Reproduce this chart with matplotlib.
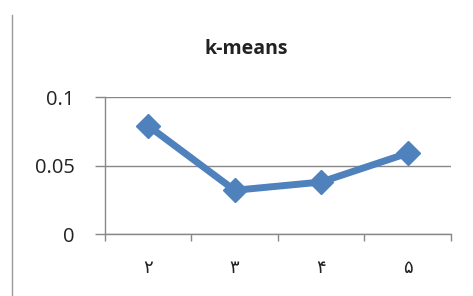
import matplotlib
matplotlib.use("Agg")
import matplotlib.pyplot as plt
from matplotlib.lines import Line2D

# data
categories = ["۲", "۳", "۴", "۵"]
values = [0.079, 0.032, 0.038, 0.059]
y_ticks = [0, 0.05, 0.1]
y_labels = ["0", "0.05", "0.1"]

fig = plt.figure(figsize=(4.73, 2.96), dpi=100)
fig.patch.set_facecolor("white")
ax = fig.add_axes([0.222, 0.209, 0.731, 0.463])

x = list(range(len(categories)))
ax.plot(x, values, color="#4F81BD", lw=5, marker="D", ms=12,
        mfc="#4F81BD", mec="#4F81BD", solid_joinstyle="miter", zorder=3)

ax.set_xlim(-0.5, len(categories) - 0.5)
ax.set_ylim(0, 0.1)
ax.set_yticks(y_ticks)
ax.set_yticklabels(y_labels, family=["Open Sans", "DejaVu Sans"], fontsize=14.5, color="#222222")
ax.set_xticks(x)
ax.set_xticklabels(categories, family=["DejaVu Sans"], fontsize=13, color="#222222")
ax.set_xticks([i - 0.5 for i in range(len(categories) + 1)], minor=True)
ax.tick_params(axis="x", which="major", length=0, pad=18)
ax.tick_params(axis="x", which="minor", length=5, color="#888888", width=1)
ax.tick_params(axis="y", length=7, color="#888888", width=1, pad=15)

ax.grid(axis="y", color="#888888", lw=1)
ax.set_axisbelow(True)
for s in ["top", "right"]:
    ax.spines[s].set_visible(False)
for s in ["left", "bottom"]:
    ax.spines[s].set_color("#888888")
    ax.spines[s].set_linewidth(1)

fig.text(0.52, 0.835, "k-means", ha="center", va="center", fontsize=14,
         fontweight="bold", family=["Open Sans", "DejaVu Sans"], color="#222222")

# page border on the left
fig.add_artist(Line2D([0.026, 0.026], [0.0, 0.95], color="#999999", lw=1))

fig.savefig("out.png", dpi=100)
